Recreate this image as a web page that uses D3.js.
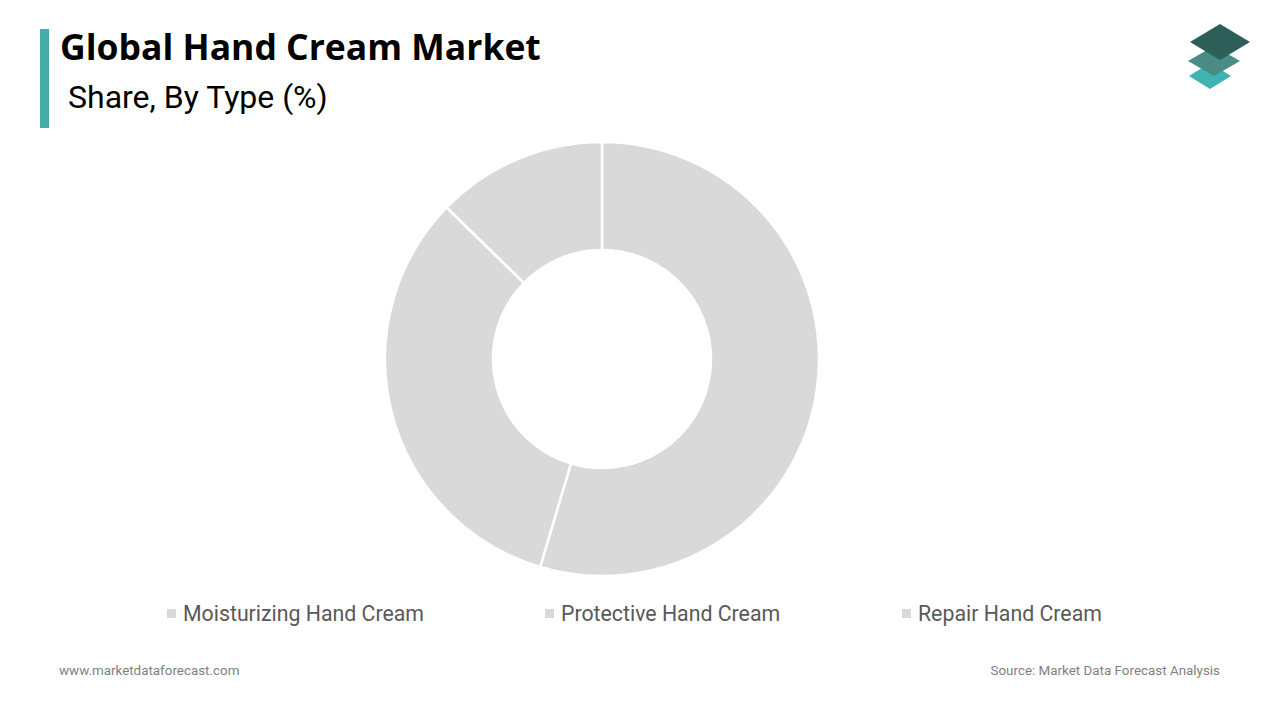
<!DOCTYPE html>
<html>
<head>
<meta charset="utf-8">
<script src="https://cdn.jsdelivr.net/npm/d3@7"></script>
<style>
  body { margin: 0; background: #fff; }
  svg { display: block; }
</style>
</head>
<body>
<div id="chart"></div>
<script>
// Share by type (%), read from the donut
var categories = ["Moisturizing Hand Cream", "Protective Hand Cream", "Repair Hand Cream"];
var shares = [54.6, 32.7, 12.7];

var width = 1280, height = 720;

var svg = d3.select("#chart").append("svg")
    .attr("width", width)
    .attr("height", height);

// title block
svg.append("rect")
    .attr("x", 40).attr("y", 29)
    .attr("width", 9).attr("height", 99)
    .attr("fill", "#46acaa");

svg.append("text")
    .attr("x", 60).attr("y", 60)
    .attr("font-family", "'Open Sans', sans-serif")
    .attr("font-weight", 700)
    .attr("font-size", 35.5)
    .attr("fill", "#000")
    .text("Global Hand Cream Market");

svg.append("text")
    .attr("x", 68).attr("y", 108)
    .attr("font-family", "Roboto, sans-serif")
    .attr("font-size", 32)
    .attr("fill", "#000")
    .text("Share, By Type (%)");

// logo, three stacked diamonds
var logo = svg.append("g");
[
    { cx: 1210, cy: 76, w: 42, h: 26, c: "#3fb3b1" },
    { cx: 1214, cy: 61, w: 52, h: 30, c: "#4b8b86" },
    { cx: 1220, cy: 42, w: 60, h: 36, c: "#2d5e58" }
].forEach(function (d) {
    logo.append("polygon")
        .attr("points", [
            [d.cx, d.cy - d.h / 2], [d.cx + d.w / 2, d.cy],
            [d.cx, d.cy + d.h / 2], [d.cx - d.w / 2, d.cy]
        ].join(" "))
        .attr("fill", d.c);
});

// donut
var cx = 602, cy = 359, outerR = 217, innerR = 109;

var pie = d3.pie().sort(null).value(function (d) { return d; });
var arc = d3.arc().innerRadius(innerR).outerRadius(outerR);

svg.append("g")
    .attr("transform", "translate(" + cx + "," + cy + ")")
    .selectAll("path")
    .data(pie(shares))
    .enter()
    .append("path")
    .attr("d", arc)
    .attr("fill", "#d9d9d9")
    .attr("stroke", "#fff")
    .attr("stroke-width", 2.5);

// legend
var legendX = [167, 545, 902];
var legend = svg.append("g");
categories.forEach(function (name, i) {
    legend.append("rect")
        .attr("x", legendX[i]).attr("y", 609)
        .attr("width", 9).attr("height", 9)
        .attr("fill", "#d9d9d9");
    legend.append("text")
        .attr("x", legendX[i] + 16).attr("y", 621)
        .attr("font-family", "Roboto, sans-serif")
        .attr("font-size", 21.3)
        .attr("fill", "#595959")
        .text(name);
});

// footer
svg.append("text")
    .attr("x", 59).attr("y", 675)
    .attr("font-family", "Roboto, sans-serif")
    .attr("font-size", 13.4)
    .attr("fill", "#7f7f7f")
    .text("www.marketdataforecast.com");

svg.append("text")
    .attr("x", 1220).attr("y", 675)
    .attr("text-anchor", "end")
    .attr("font-family", "Roboto, sans-serif")
    .attr("font-size", 13.4)
    .attr("fill", "#7f7f7f")
    .text("Source: Market Data Forecast Analysis");
</script>
</body>
</html>
